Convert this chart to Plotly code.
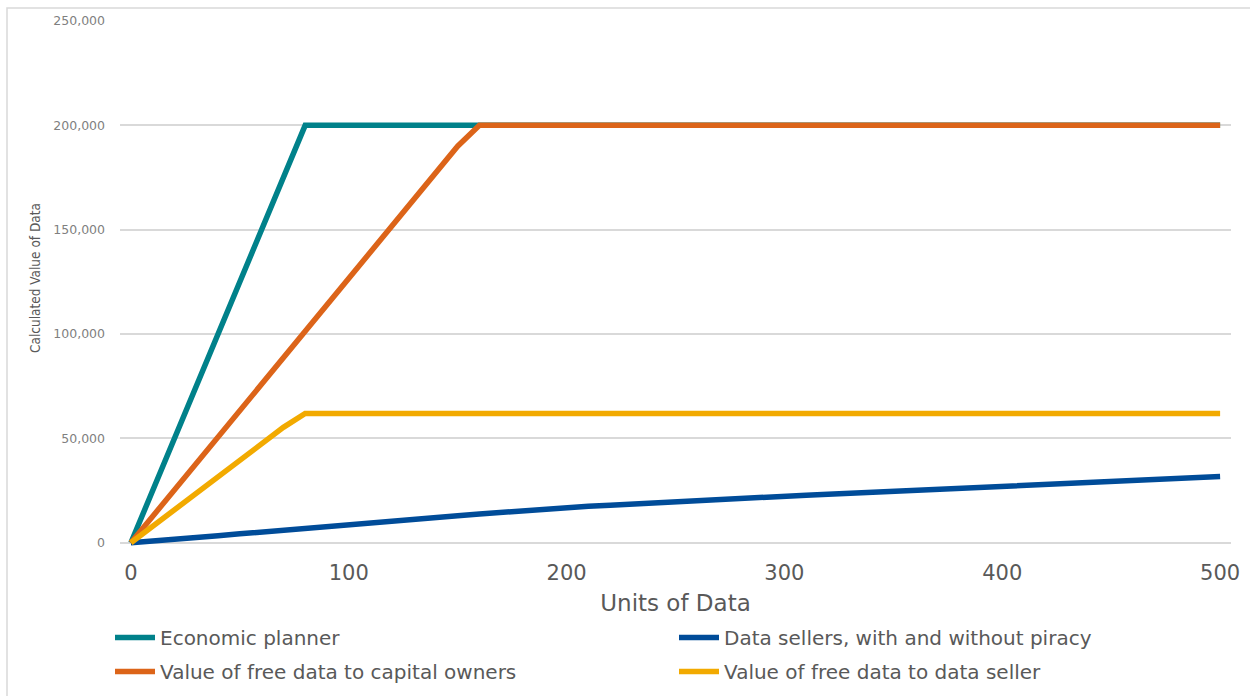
import plotly.graph_objects as go

# Units of data (category axis)
units = [0, 10, 20, 30, 40, 50, 60, 70, 80, 90,
         100, 110, 120, 130, 140, 150, 160, 170, 180, 190,
         200, 210, 220, 230, 240, 250, 260, 270, 280, 290,
         300, 310, 320, 330, 340, 350, 360, 370, 380, 390,
         400, 410, 420, 430, 440, 450, 460, 470, 480, 490, 500]

economic_planner = [0, 25000, 50000, 75000, 100000, 125000, 150000, 175000, 200000,
                    200000, 200000, 200000, 200000, 200000, 200000, 200000, 200000,
                    200000, 200000, 200000, 200000, 200000, 200000, 200000, 200000,
                    200000, 200000, 200000, 200000, 200000, 200000, 200000, 200000,
                    200000, 200000, 200000, 200000, 200000, 200000, 200000, 200000,
                    200000, 200000, 200000, 200000, 200000, 200000, 200000, 200000,
                    200000, 200000]

data_sellers = [0, 700, 1500, 2500, 3400, 4300, 5100, 5900, 6800, 7700,
                8500, 9500, 10400, 11300, 12000, 12900, 13800, 14600, 15500, 16300,
                16900, 17500, 18000, 18600, 19200, 19700, 20200, 20700, 21200, 21700,
                22200, 22800, 23300, 23800, 24300, 24800, 25300, 25700, 26300, 26800,
                27300, 27800, 28200, 28700, 29100, 29600, 30000, 30400, 30900, 31300,
                31700]

capital_owners = [0, 12667, 25333, 38000, 50667, 63333, 76000, 88667, 101333, 114000,
                  126667, 139333, 152000, 164667, 177333, 190000, 200000,
                  200000, 200000, 200000, 200000, 200000, 200000, 200000, 200000,
                  200000, 200000, 200000, 200000, 200000, 200000, 200000, 200000,
                  200000, 200000, 200000, 200000, 200000, 200000, 200000, 200000,
                  200000, 200000, 200000, 200000, 200000, 200000, 200000, 200000,
                  200000, 200000]

data_seller_free = [0, 7900, 15800, 23700, 31600, 39500, 47400, 55300, 62000,
                    62000, 62000, 62000, 62000, 62000, 62000, 62000, 62000,
                    62000, 62000, 62000, 62000, 62000, 62000, 62000, 62000,
                    62000, 62000, 62000, 62000, 62000, 62000, 62000, 62000,
                    62000, 62000, 62000, 62000, 62000, 62000, 62000, 62000,
                    62000, 62000, 62000, 62000, 62000, 62000, 62000, 62000,
                    62000, 62000]

x_ticks = [0, 100, 200, 300, 400, 500]
y_ticks = [0, 50000, 100000, 150000, 200000, 250000]
y_tick_text = ["0", "50,000", "100,000", "150,000", "200,000", "250,000"]

series = [
    ("Economic planner", economic_planner, "#00818A", "legend"),
    ("Data sellers, with and without piracy", data_sellers, "#004C99", "legend"),
    ("Value of free data to capital owners", capital_owners, "#DC6419", "legend2"),
    ("Value of free data to data seller", data_seller_free, "#F2AA00", "legend2"),
]

fig = go.Figure()
for name, vals, color, leg in series:
    fig.add_trace(go.Scatter(
        x=units, y=vals, mode="lines", name=name, legend=leg,
        line=dict(color=color, width=5.5),
    ))

W, H = 1250, 696
ML, MR, MT, MB = 120, 19, 21, 148
pw = W - ML - MR
ph = H - MT - MB

def px_x(p):
    return (p - ML) / pw

def px_y(p):
    return (H - MB - p) / ph

text_grey = "#595959"
legend_font = dict(family="DejaVu Sans", size=20, color=text_grey)

fig.update_layout(
    width=W, height=H,
    margin=dict(l=ML, r=MR, t=MT, b=MB, autoexpand=False),
    paper_bgcolor="white", plot_bgcolor="white",
    showlegend=True,
    legend=dict(orientation="h", x=px_x(110), y=px_y(618), xanchor="left", yanchor="top",
                font=legend_font, entrywidth=509, entrywidthmode="pixels",
                bgcolor="rgba(0,0,0,0)", itemwidth=40),
    legend2=dict(orientation="h", x=px_x(110), y=px_y(652), xanchor="left", yanchor="top",
                 font=legend_font, entrywidth=509, entrywidthmode="pixels",
                 bgcolor="rgba(0,0,0,0)", itemwidth=40),
    xaxis=dict(
        range=[-5, 505], tickvals=x_ticks, ticktext=[str(v) for v in x_ticks],
        showgrid=False, zeroline=False, showline=False, ticks="",
        ticklabelstandoff=10,
        tickfont=dict(family="DejaVu Sans", size=21, color=text_grey),
        title=dict(text="Units of Data", standoff=10,
                   font=dict(family="DejaVu Sans", size=23, color=text_grey)),
    ),
    yaxis=dict(
        range=[-2500, 250000], tickvals=y_ticks, ticktext=y_tick_text,
        showgrid=True, gridcolor="#d9d9d9", gridwidth=1.5, zeroline=False, showline=False,
        ticks="", ticklabelstandoff=14,
        tickfont=dict(family="DejaVu Sans", size=12.5, color="#7f7f7f"),
    ),
    annotations=[dict(
        text="Calculated Value of Data", textangle=-90,
        xref="paper", yref="paper", x=px_x(35), y=px_y(278),
        xanchor="center", yanchor="middle", showarrow=False,
        font=dict(family="Liberation Sans Narrow, DejaVu Sans Condensed, sans-serif",
                  size=13.5, color=text_grey),
    )],
    shapes=[dict(
        type="rect", xref="paper", yref="paper",
        x0=px_x(7), x1=px_x(1260), y0=px_y(710), y1=px_y(8),
        line=dict(color="#d9d9d9", width=1.5), fillcolor="rgba(0,0,0,0)", layer="below",
    )],
)

fig.write_html("out.html")
